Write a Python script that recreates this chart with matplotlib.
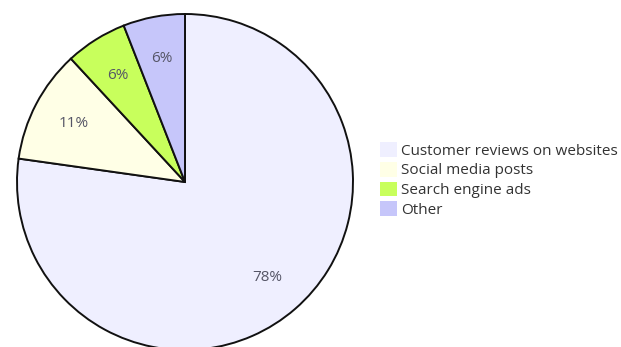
import matplotlib
matplotlib.use("Agg")
import matplotlib.pyplot as plt
from matplotlib.patches import Patch

categories = ["Customer reviews on websites", "Social media posts", "Search engine ads", "Other"]
shares = [78, 11, 6, 6]
colors = ["#EFEFFF", "#FFFFE6", "#C8FF5C", "#C6C6FA"]

plt.rcParams["font.family"] = ["Open Sans", "DejaVu Sans"]

W, H = 621, 347
fig = plt.figure(figsize=(W / 100, H / 100), dpi=100)
fig.patch.set_facecolor("white")

cx, cy, r = 185, 182, 168
ax = fig.add_axes([(cx - r) / W, (H - cy - r) / H, 2 * r / W, 2 * r / H])

wedges, texts, autotexts = ax.pie(
    shares,
    colors=colors,
    startangle=90,
    counterclock=False,
    radius=1,
    labels=None,
    autopct=lambda p: "",
    pctdistance=0.75,
    wedgeprops=dict(edgecolor="#111111", linewidth=1.4),
)
for t, v in zip(autotexts, shares):
    t.set_text(f"{v}%")
    t.set_color("#555566")
    t.set_fontsize(11)

ax.set_xlim(-1, 1)
ax.set_ylim(-1, 1)
ax.set_aspect("equal")
ax.axis("off")
for w in wedges:
    w.set_clip_on(False)

handles = [Patch(facecolor=c, edgecolor="none") for c in colors]
fig.legend(
    handles,
    categories,
    loc="center left",
    bbox_to_anchor=(380 / W, 1 - 180 / H),
    frameon=False,
    fontsize=11,
    handlelength=1.1,
    handleheight=1.1,
    handletextpad=0.3,
    labelspacing=0.2,
    borderaxespad=0,
    borderpad=0,
    labelcolor="#333333",
)

fig.savefig("out.png", dpi=100)
